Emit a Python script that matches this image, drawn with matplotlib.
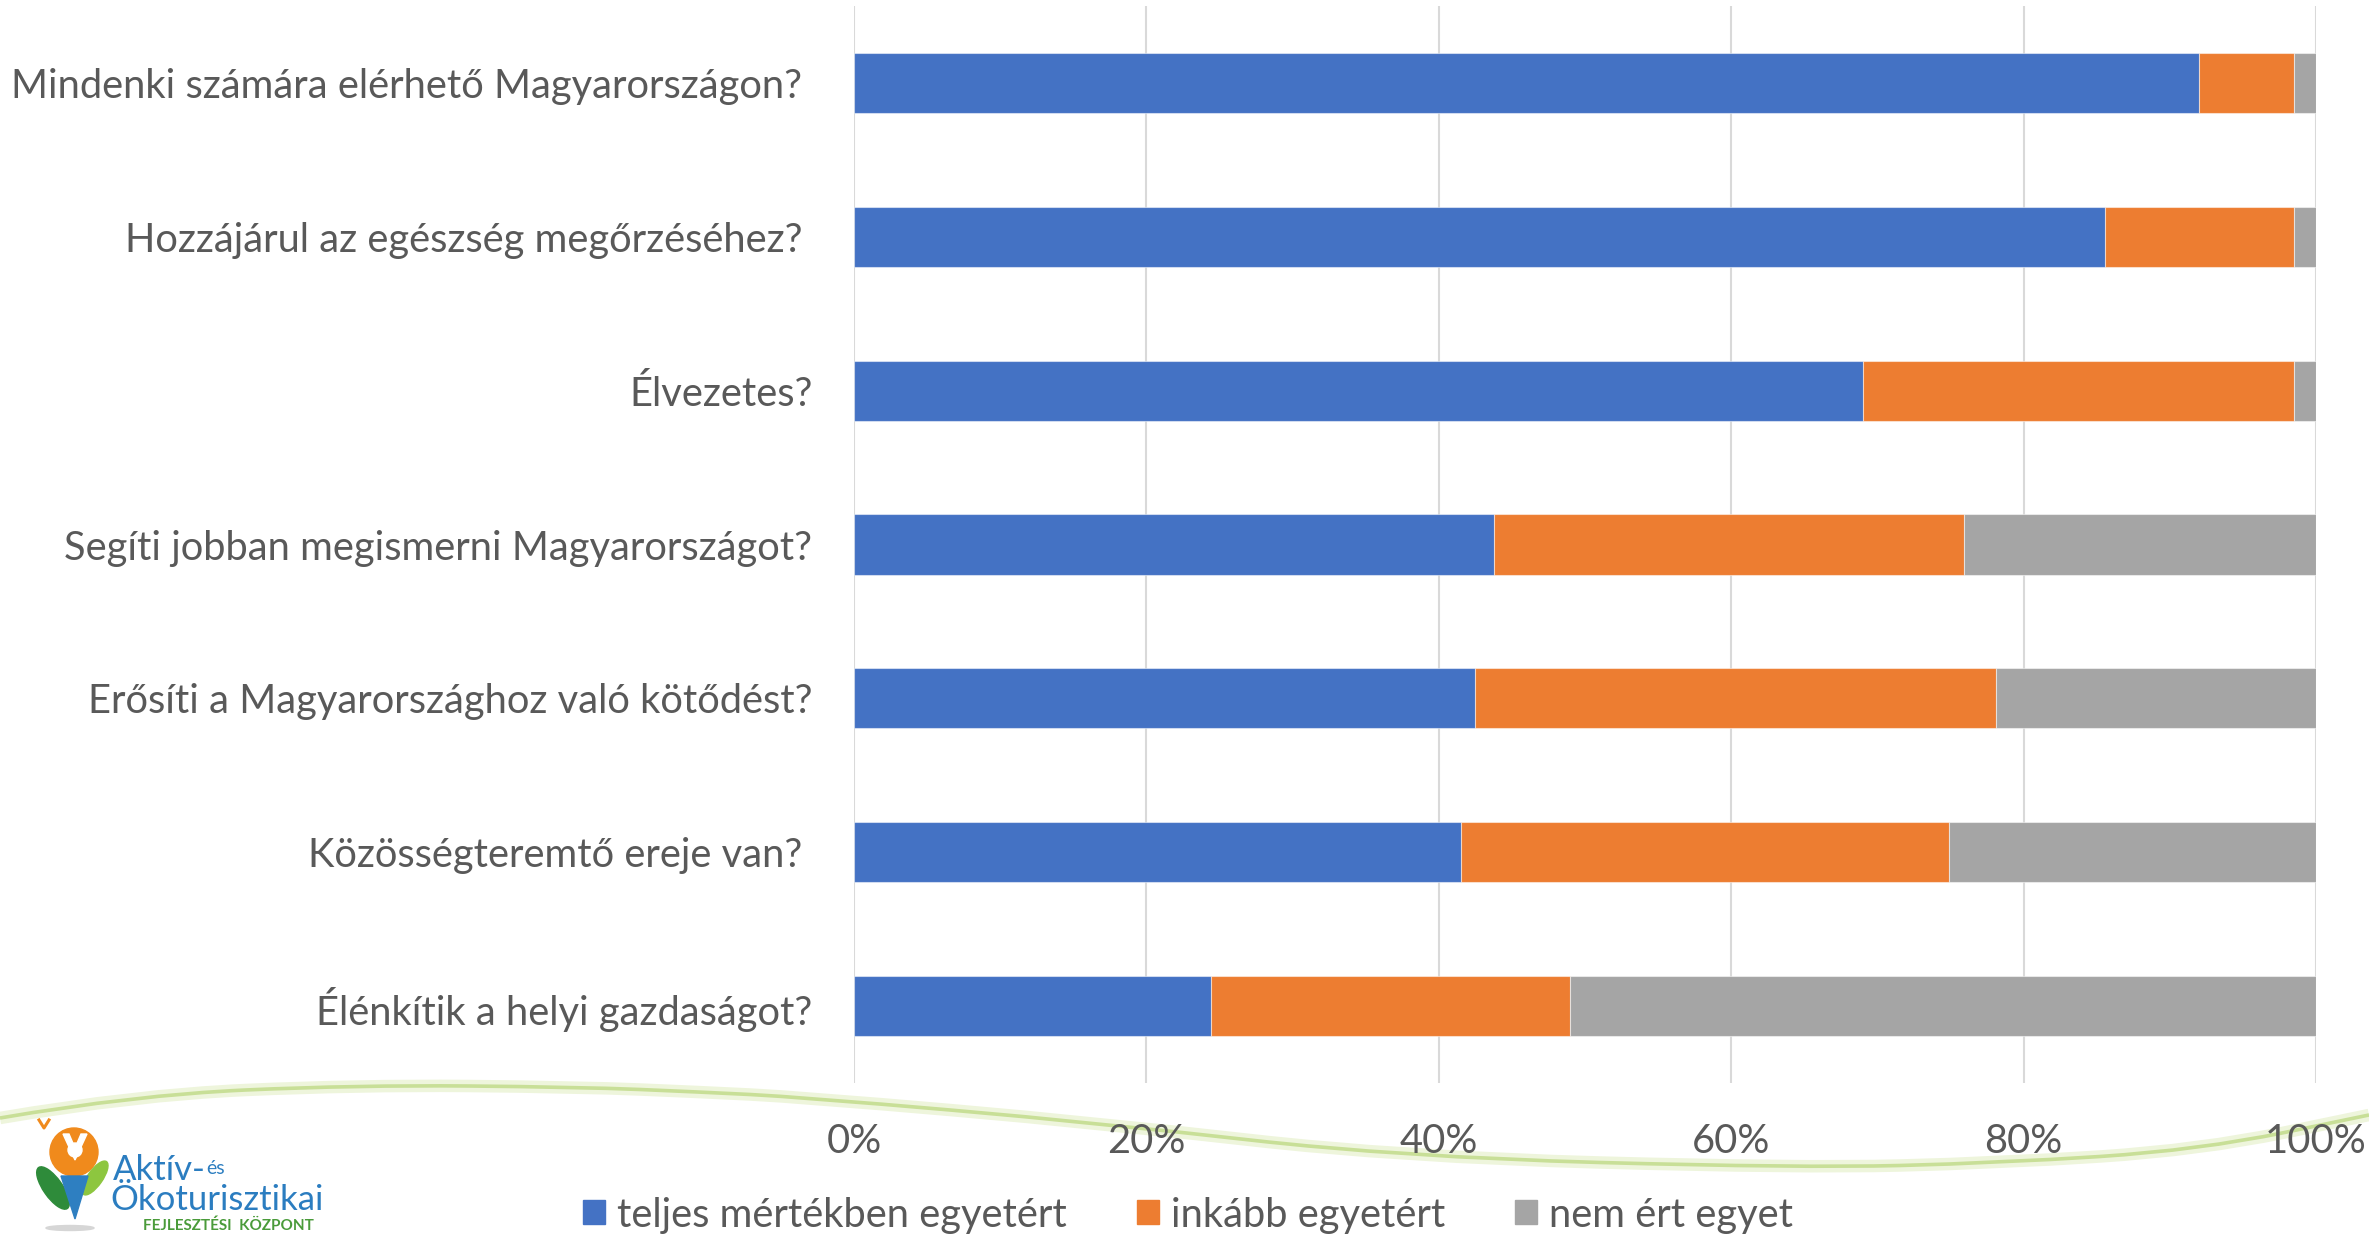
import numpy as np
import matplotlib.pyplot as plt
from matplotlib.patches import Patch, Circle, Ellipse, Polygon, PathPatch
from matplotlib.path import Path

# questions, top to bottom
categories = [
    "Mindenki számára elérhető Magyarországon? ",
    "Hozzájárul az egészség megőrzéséhez? ",
    "Élvezetes?",
    "Segíti jobban megismerni Magyarországot?",
    "Erősíti a Magyarországhoz való kötődést?",
    "Közösségteremtő ereje van? ",
    "Élénkítik a helyi gazdaságot?",
]
teljes = [92.0, 85.6, 69.0, 43.8, 42.5, 41.5, 24.4]
inkabb = [6.5, 12.9, 29.5, 32.1, 35.6, 33.4, 24.6]
nem = [1.5, 1.5, 1.5, 24.1, 21.9, 25.1, 51.0]
series_names = ["teljes mértékben egyetért", "inkább egyetért", "nem ért egyet"]
colors = ["#4472C4", "#ED7D31", "#A5A5A5"]
xticks = [0, 20, 40, 60, 80, 100]

W, H = 2369, 1234
FONT = ["Lato", "DejaVu Sans"]
TXT = "#595959"
FS = 28.7

fig = plt.figure(figsize=(W / 100, H / 100), dpi=100)
fig.patch.set_facecolor("white")

# decorative green swoosh behind everything (figure pixel coords, y down)
swoosh = [(0, 1118), (134, 1095), (357, 1085), (580, 1087), (700, 1092), (800, 1097),
          (1100, 1123), (1400, 1157), (1800, 1168), (2000, 1163), (2200, 1150), (2369, 1115)]
pts = [(x / W, 1 - y / H) for x, y in swoosh]
verts = [pts[0]]
codes = [Path.MOVETO]
for i in range(1, len(pts) - 1):
    mid = ((pts[i][0] + pts[i + 1][0]) / 2, (pts[i][1] + pts[i + 1][1]) / 2)
    verts += [pts[i], mid]
    codes += [Path.CURVE3, Path.CURVE3]
verts.append(pts[-1])
codes.append(Path.LINETO)
sw_path = Path(verts, codes)
fig.patches.append(PathPatch(sw_path, fc="none", ec="#eef5dc", lw=9, transform=fig.transFigure, zorder=-2))
fig.patches.append(PathPatch(sw_path, fc="none", ec="#c8df97", lw=2.6, transform=fig.transFigure, zorder=-1))

ax = fig.add_axes([854 / W, 1 - 1083 / H, 1462 / W, 1077 / H])
ax.patch.set_alpha(0)
y = np.arange(len(categories))
left = np.zeros(len(categories))
for vals, c, name in zip([teljes, inkabb, nem], colors, series_names):
    ax.barh(y, vals, left=left, height=0.39, color=c, edgecolor=(1, 1, 1, 0.5),
            linewidth=0.8, label=name, zorder=3)
    left = left + np.array(vals)

ax.set_xlim(0, 100)
ax.set_ylim(len(categories) - 0.5, -0.5)
ax.set_xticks(xticks)
ax.set_xticklabels([f"{t}%" for t in xticks])
ax.set_yticks(y)
ax.set_yticklabels(categories)
ax.grid(axis="x", color="#d9d9d9", lw=1.5, zorder=0)
ax.grid(axis="y", visible=False)
for s in ax.spines.values():
    s.set_visible(False)
ax.tick_params(axis="x", length=0, pad=29, labelsize=FS, labelcolor=TXT)
ax.tick_params(axis="y", length=0, pad=30, labelsize=FS, labelcolor=TXT)
for lab in ax.get_xticklabels() + ax.get_yticklabels():
    lab.set_family(FONT)

handles = [Patch(color=c) for c in colors]
leg = fig.legend(handles, series_names, loc="center", bbox_to_anchor=(0.5015, 1 - 1215 / H),
                 ncol=3, frameon=False, handlelength=0.55, handleheight=0.55,
                 handletextpad=0.3, columnspacing=1.75, labelcolor=TXT,
                 prop={"family": FONT, "size": FS})

# logo (pixel-like coords inside a small axes)
lg = fig.add_axes([25 / W, 0, 310 / W, 120 / H])
lg.set_xlim(0, 310)
lg.set_ylim(0, 120)
lg.axis("off")
lg.add_patch(Ellipse((45, 6), 48, 5, color="#d6d6d6"))
lg.add_patch(Circle((49, 82), 24, color="#F08A1C"))
lg.add_patch(Circle((50, 84), 7, color="white"))
lg.add_patch(Polygon([(38, 100), (50, 74), (62, 100), (56, 100), (50, 86), (44, 100)],
                     closed=True, color="white"))
lg.add_patch(Ellipse((28, 46), 50, 19, angle=-55, color="#2E8B3A"))
lg.add_patch(Ellipse((70, 56), 40, 15, angle=55, color="#8DC63F"))
lg.add_patch(Polygon([(36, 58), (63, 58), (50, 15)], closed=True, color="#2E7FC1"))
lg.plot([14, 19, 24], [114, 106, 114], color="#F08A1C", lw=2.2)
lg.text(88, 54, "Aktív-", fontsize=25, color="#2B7DC0", family=FONT)
lg.text(181, 60, "és", fontsize=14, color="#2B7DC0", family=FONT)
lg.text(85, 24, "Ökoturisztikai", fontsize=25, color="#2B7DC0", family=FONT)
lg.text(118, 4, "FEJLESZTÉSI  KÖZPONT", fontsize=11, color="#4A9B3A", family=FONT,
        fontweight="bold")

fig.savefig("out.png", dpi=100)
